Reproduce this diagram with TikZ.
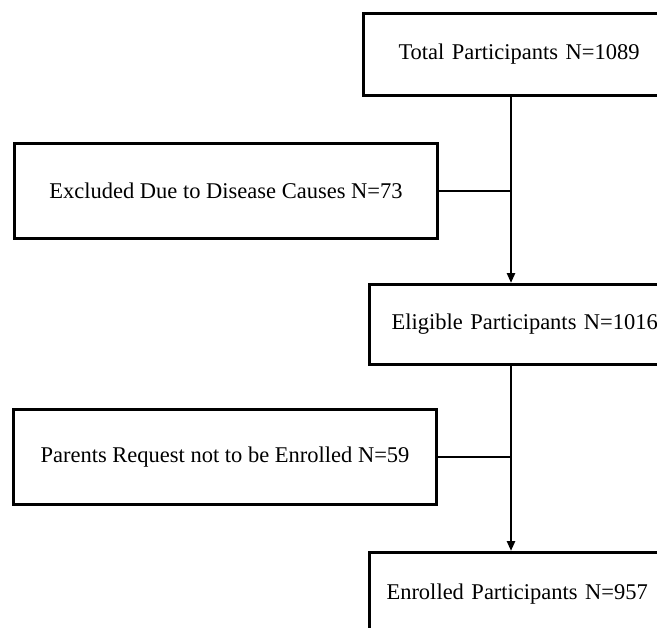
\documentclass[tikz,border=0pt]{standalone}
\usepackage{fontspec}
\setmainfont{Liberation Serif}
\usetikzlibrary{arrows.meta}
\tikzset{
  box/.style={draw=black, line width=3bp, anchor=north west, font=\fontsize{22.5bp}{27bp}\selectfont, inner ysep=0pt},
  rbox/.style={box, align=left, text width=300bp},
  lbox/.style={box, align=center, minimum width=423bp, minimum height=95bp},
  conn/.style={line width=2.8bp},
  arr/.style={conn, -{Triangle[length=10bp,width=8bp]}}
}
\begin{document}
\begin{tikzpicture}[x=1bp,y=-1bp]
\useasboundingbox (0,0) rectangle (657,628);
\clip (0,0) rectangle (657,628);
\fill[white] (0,0) rectangle (657,628);
\node[rbox, inner xsep=35bp, minimum height=82bp] (total) at (362,12) {Total Participants N=1089};
\node[lbox] (excl) at (13,142) {Excluded Due to Disease Causes N=73};
\node[rbox, inner xsep=22bp, minimum height=80bp] (elig) at (368,283) {Eligible Participants N=1016};
\node[lbox] (par) at (12,408) {Parents Request not to be Enrolled N=59};
\node[rbox, inner xsep=17bp, minimum height=84bp] (enr) at (368,551) {Enrolled Participants N=957};
\coordinate (trunk) at (511,0);
\draw[arr] (total.south -| trunk) -- (elig.north -| trunk);
\draw[conn] (excl.east) -- (excl.east -| trunk);
\draw[arr] (elig.south -| trunk) -- (enr.north -| trunk);
\draw[conn] (par.east) -- (par.east -| trunk);
\end{tikzpicture}
\end{document}
